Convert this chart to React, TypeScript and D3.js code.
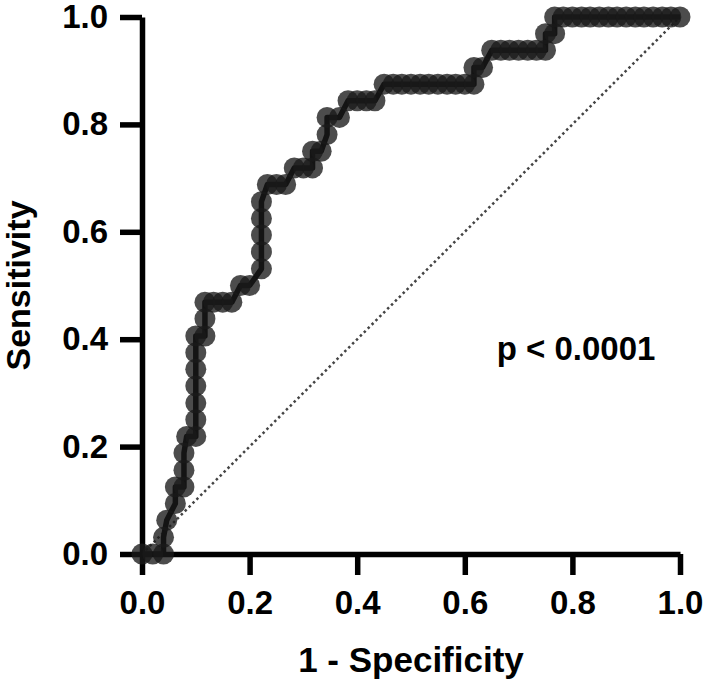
import { useEffect, useRef } from "react";
import * as d3 from "d3";

// ROC curve points (1 - specificity, sensitivity)
const fpr = [
  0, 0.02, 0.04, 0.04, 0.046, 0.062, 0.062, 0.078, 0.078, 0.078, 0.083, 0.1,
  0.1, 0.1, 0.1, 0.1, 0.1, 0.1, 0.117, 0.117, 0.117, 0.133, 0.15, 0.167, 0.183,
  0.2, 0.222, 0.222, 0.222, 0.222, 0.222, 0.233, 0.25, 0.267, 0.283, 0.3, 0.317,
  0.317, 0.333, 0.344, 0.344, 0.367, 0.383, 0.4, 0.417, 0.433, 0.45, 0.467,
  0.483, 0.5, 0.517, 0.533, 0.55, 0.567, 0.583, 0.6, 0.617, 0.617, 0.633, 0.65,
  0.667, 0.683, 0.7, 0.717, 0.733, 0.75, 0.75, 0.767, 0.767, 0.783, 0.8, 0.817,
  0.833, 0.85, 0.867, 0.883, 0.9, 0.917, 0.933, 0.95, 0.967, 0.983, 1,
];
const sens = [
  0, 0, 0, 0.031, 0.063, 0.094, 0.125, 0.125, 0.156, 0.188, 0.219, 0.219,
  0.25, 0.281, 0.313, 0.344, 0.375, 0.406, 0.406, 0.438, 0.469, 0.469, 0.469,
  0.469, 0.5, 0.5, 0.531, 0.563, 0.594, 0.625, 0.656, 0.688, 0.688, 0.688,
  0.719, 0.719, 0.719, 0.75, 0.75, 0.781, 0.813, 0.813, 0.844, 0.844, 0.844,
  0.844, 0.875, 0.875, 0.875, 0.875, 0.875, 0.875, 0.875, 0.875, 0.875, 0.875,
  0.875, 0.906, 0.906, 0.938, 0.938, 0.938, 0.938, 0.938, 0.938, 0.938, 0.969,
  0.969, 1, 1, 1, 1, 1, 1, 1, 1, 1, 1, 1, 1, 1, 1, 1,
];
const ticks = [0, 0.2, 0.4, 0.6, 0.8, 1.0];
const pLabel = "p < 0.0001";

const font = "'Liberation Sans', Arial, Helvetica, sans-serif";

export default function App() {
  const svgRef = useRef<SVGSVGElement | null>(null);

  useEffect(() => {
    const svg = d3.select(svgRef.current);
    svg.selectAll("*").remove();

    const x = d3.scaleLinear().domain([0, 1]).range([142, 680]);
    const y = d3.scaleLinear().domain([0, 1]).range([554, 17]);

    const pts: [number, number][] = fpr.map((f, i) => [f, sens[i]]);
    const line = d3
      .line<[number, number]>()
      .x((d) => x(d[0]))
      .y((d) => y(d[1]));

    // chance line
    svg
      .append("path")
      .datum([[0, 0], [1, 1]] as [number, number][])
      .attr("fill", "none")
      .attr("stroke", "#444")
      .attr("stroke-width", 2.5)
      .attr("stroke-dasharray", "2.5,3")
      .attr("d", line);

    // axes
    const styleAxis = (g: any) => {
      g.select(".domain").attr("stroke", "#000").attr("stroke-width", 5.5);
      g.selectAll(".tick line").attr("stroke", "#000").attr("stroke-width", 5.5);
      g.selectAll(".tick text")
        .attr("fill", "#000")
        .style("font-family", font)
        .style("font-weight", "bold")
        .style("font-size", "33px");
    };

    svg
      .append("g")
      .attr("transform", `translate(0,${y(0)})`)
      .call(
        d3
          .axisBottom(x)
          .tickValues(ticks)
          .tickSize(21)
          .tickSizeOuter(0)
          .tickPadding(16)
          .tickFormat(d3.format(".1f"))
      )
      .call(styleAxis);

    svg
      .append("g")
      .attr("transform", `translate(${x(0)},0)`)
      .call(
        d3
          .axisLeft(y)
          .tickValues(ticks)
          .tickSize(22)
          .tickSizeOuter(0)
          .tickPadding(12)
          .tickFormat(d3.format(".1f"))
      )
      .call(styleAxis);

    // curve
    svg
      .append("path")
      .datum(pts)
      .attr("fill", "none")
      .attr("stroke", "#000")
      .attr("stroke-width", 5.5)
      .attr("stroke-linejoin", "round")
      .attr("d", line);

    svg
      .append("g")
      .selectAll("circle")
      .data(pts)
      .join("circle")
      .attr("cx", (d) => x(d[0]))
      .attr("cy", (d) => y(d[1]))
      .attr("r", 10.5)
      .attr("fill", "#1a1a1a")
      .attr("fill-opacity", 0.78);

    // labels
    svg
      .append("text")
      .attr("x", (x(0) + x(1)) / 2)
      .attr("y", 672)
      .attr("text-anchor", "middle")
      .style("font-family", font)
      .style("font-weight", "bold")
      .style("font-size", "35px")
      .text("1 - Specificity");

    svg
      .append("text")
      .attr("transform", `translate(30,${(y(0) + y(1)) / 2}) rotate(-90)`)
      .attr("text-anchor", "middle")
      .style("font-family", font)
      .style("font-weight", "bold")
      .style("font-size", "34px")
      .text("Sensitivity");

    svg
      .append("text")
      .attr("x", 576)
      .attr("y", 360)
      .attr("text-anchor", "middle")
      .style("font-family", font)
      .style("font-weight", "bold")
      .style("font-size", "33px")
      .text(pLabel);
  }, []);

  return (
    <svg
      ref={svgRef}
      width={708}
      height={682}
      style={{ position: "absolute", left: 0, top: 0, background: "#fff" }}
    />
  );
}
